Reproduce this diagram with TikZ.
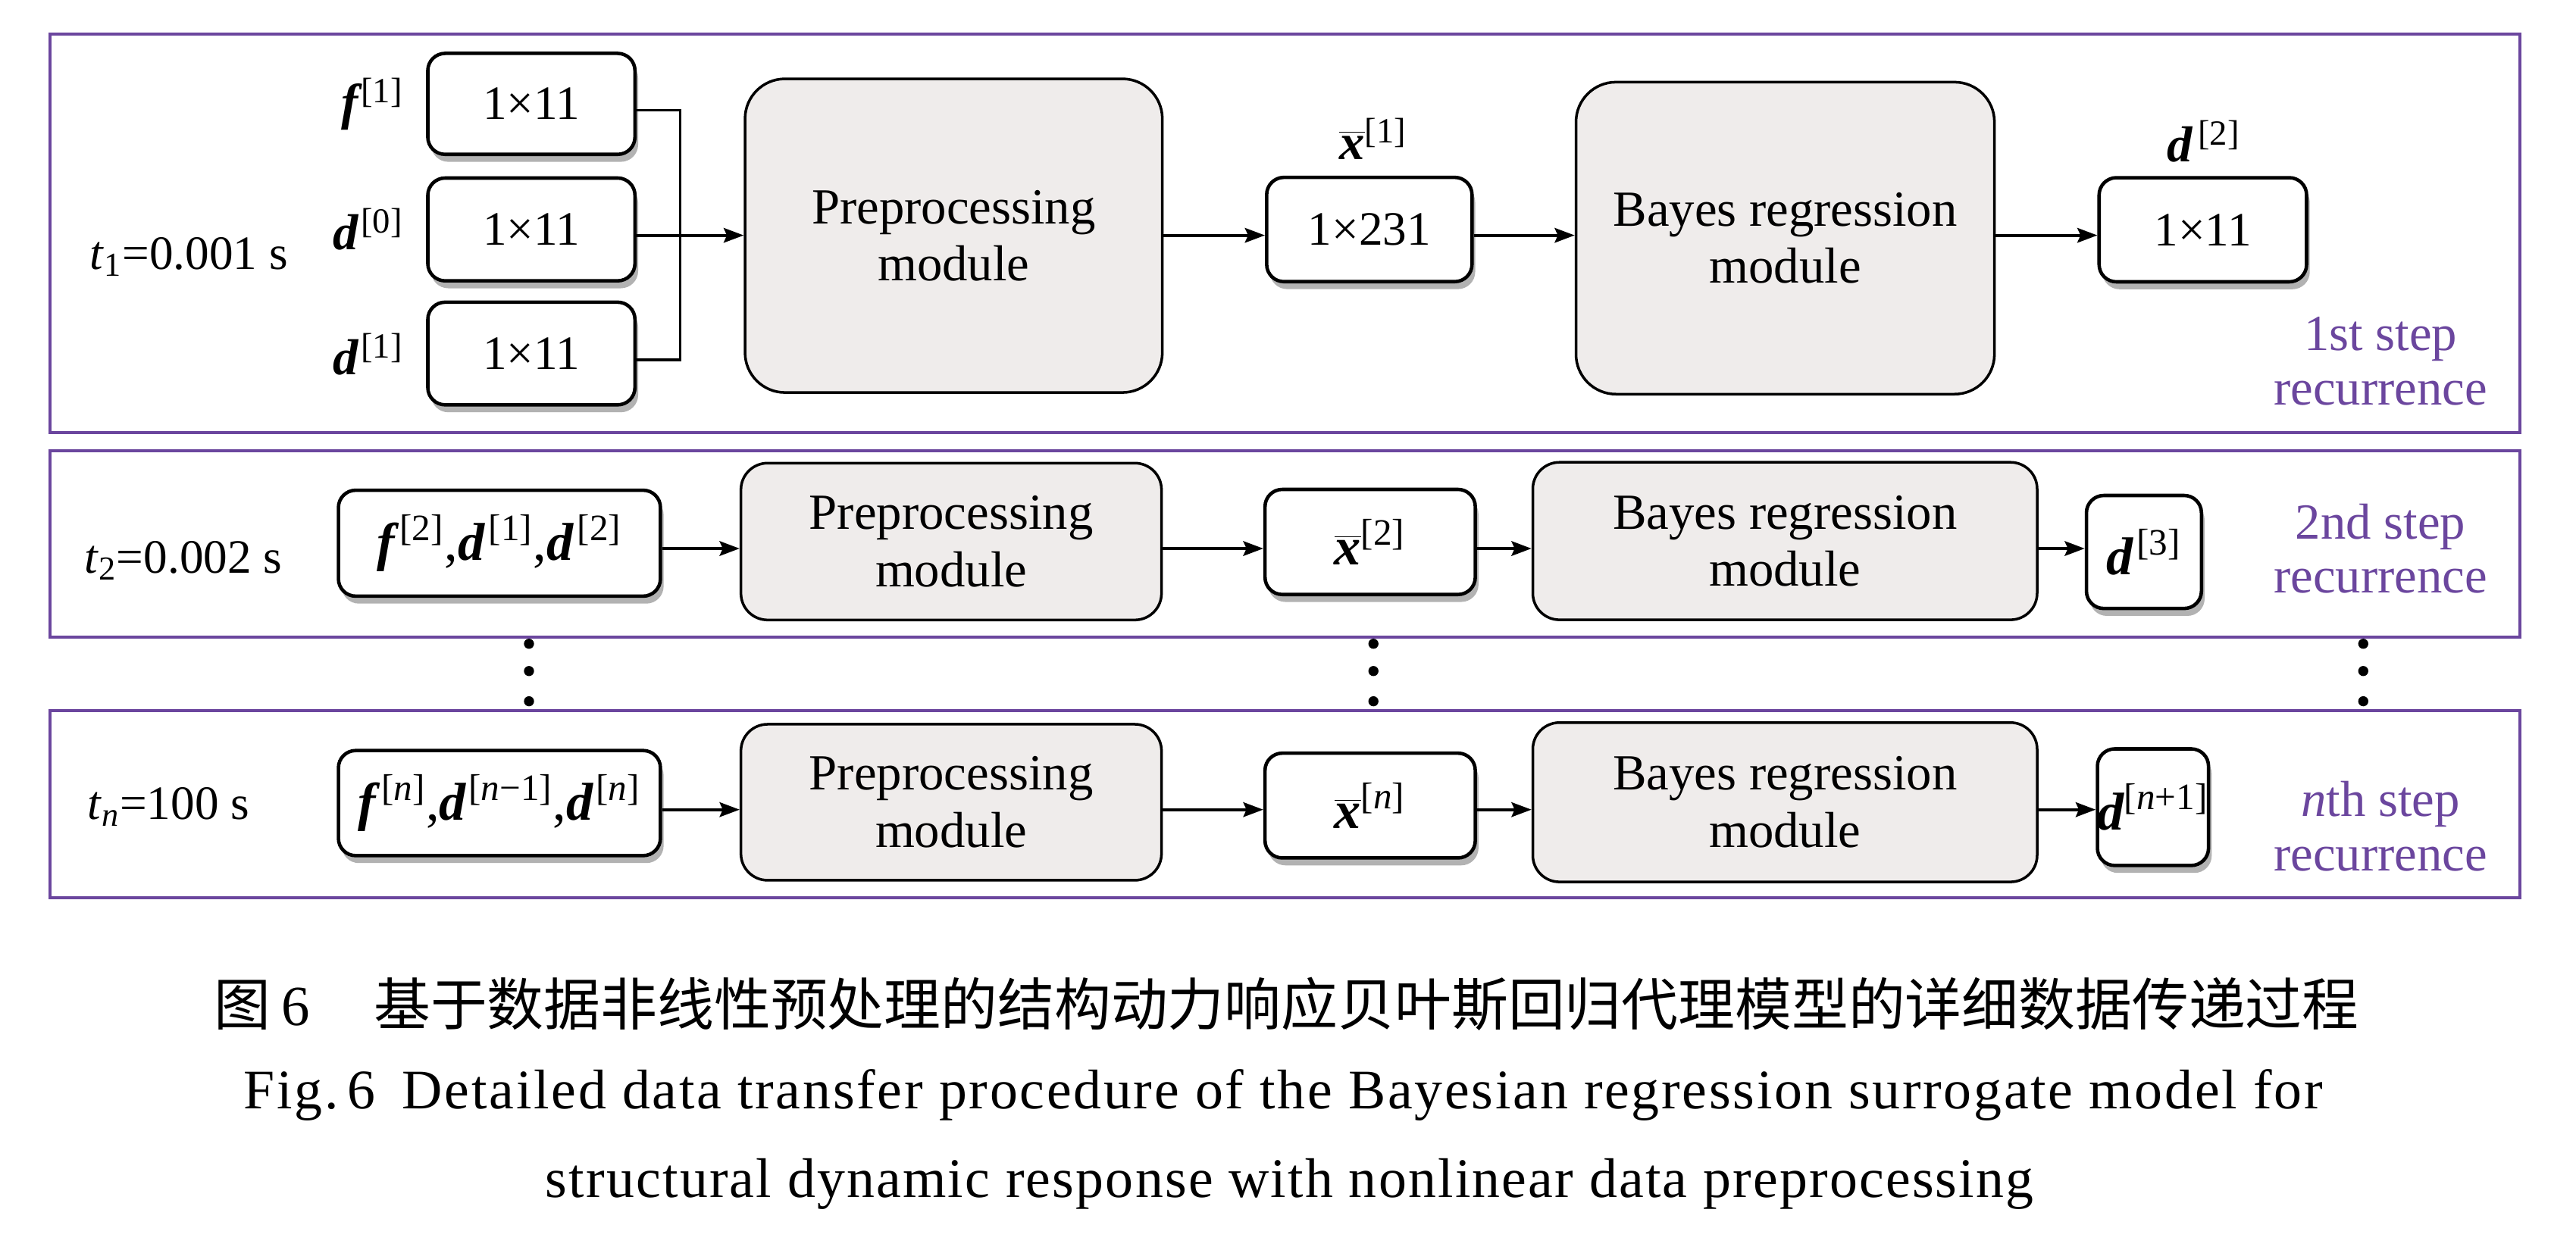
\documentclass[tikz,border=0pt]{standalone}
\usepackage{fontspec}
\setmainfont{Liberation Serif}
\newfontfamily\cjk{Noto Sans CJK SC}
\usetikzlibrary{arrows.meta,shadows}
\definecolor{frm}{RGB}{107,70,158}
\definecolor{modfill}{RGB}{239,236,235}
\newcommand\bvec[1]{{\bfseries\itshape #1}}
\newcommand\xbar{$\overline{\mbox{\bvec{x}}}$}
\tikzset{
  boxat/.style n args={4}{at={({(#1+#3)/2},{(#2+#4)/2})},
    minimum width={(#3-#1)*0.021677cm}, minimum height={(#4-#2)*0.021677cm}},
  frame/.style={draw=frm, line width=1.2pt},
  smallbox/.style={draw, line width=1.3pt, rounded corners=6.5pt, fill=white, inner sep=0pt,
    drop shadow={shadow xshift=1.2pt, shadow yshift=-2.8pt, fill=black, opacity=0.3},
    font=\fontsize{18}{20}\selectfont},
  mathbox/.style={smallbox, font=\fontsize{20}{22}\selectfont},
  modbig/.style={draw, line width=1pt, rounded corners=15pt, fill=modfill, inner sep=0pt,
    align=center, font=\fontsize{19}{21.5}\selectfont},
  modrow/.style={modbig, rounded corners=10pt},
  lbl/.style={inner sep=0pt, font=\fontsize{19}{21}\selectfont},
  tlab/.style={inner sep=0pt, font=\fontsize{18}{20}\selectfont},
  steptxt/.style={inner sep=0pt, text=frm, align=center, font=\fontsize{19}{20.4}\selectfont},
  conn/.style={line width=1.1pt},
  arr/.style={conn, -{Stealth[length=7.5pt,width=5.5pt,inset=1.2pt]}},
}
\begin{document}
\begin{tikzpicture}[x=0.021677cm, y=-0.021677cm]
\useasboundingbox (0,0) rectangle (1568,759);

% frames
\draw[frame] (30.3,20.6) rectangle (1533.7,263.3);
\draw[frame] (30.3,274.4) rectangle (1533.7,387.8);
\draw[frame] (30.3,432.8) rectangle (1533.7,546.5);

% ---------- row 1
\coordinate (r1) at (0,143.3);
\coordinate (bus) at (414,143.3);
\node[tlab, anchor=base west] (t1) at (54.5,164) {\textit{t}\textsubscript{1}=0.001 s};
\node[smallbox, boxat={260.4}{32.5}{386.5}{94}] (f1) {1×11};
\node[smallbox, boxat={260.4}{108.4}{386.5}{171}] (d0) {1×11};
\node[smallbox, boxat={260.4}{184}{386.5}{246.5}] (d1) {1×11};
\node[lbl, anchor=base east] (lf1) at (246,72.5) {\bvec{f}\kern1pt\textsuperscript{[1]}};
\node[lbl, anchor=base east] (ld0) at (246,152) {\bvec{d}\kern1pt\textsuperscript{[0]}};
\node[lbl, anchor=base east] (ld1) at (246,228) {\bvec{d}\kern1pt\textsuperscript{[1]}};
\node[modbig, boxat={453.5}{48}{707.5}{239}] (pre1) {Preprocessing\\module};
\node[smallbox, boxat={771}{108}{896}{171.5}] (x1) {1×231};
\node[lbl, anchor=base] (lx1) at (836,97) {\xbar\textsuperscript{[1]}};
\node[modbig, boxat={959.3}{50}{1214}{240}] (bay1) {Bayes regression\\module};
\node[smallbox, boxat={1277.7}{108.2}{1404}{171.6}] (d2) {1×11};
\node[lbl, anchor=base] (ld2) at (1341.5,98.3) {\bvec{d}\kern2pt\textsuperscript{[2]}};
\node[steptxt] (s1) at (1449,220) {1st step\\recurrence};

\draw[conn] ([yshift=-2.4pt]f1.east) -- ([yshift=-2.4pt]f1.east -| bus) -- ([yshift=-2.4pt]d1.east -| bus) -- ([yshift=-2.4pt]d1.east);
\draw[arr] (d0.east |- r1) -- (pre1.west |- r1);
\draw[arr] (pre1.east |- r1) -- (x1.west |- r1);
\draw[arr] (x1.east |- r1) -- (bay1.west |- r1);
\draw[arr] (bay1.east |- r1) -- (d2.west |- r1);

% ---------- row 2
\coordinate (r2) at (0,334);
\node[tlab, anchor=base west] (t2) at (51,349) {\textit{t}\textsubscript{2}=0.002 s};
\node[mathbox, boxat={206}{298.5}{402}{363}] (in2) {\bvec{f}\kern2pt\textsuperscript{[2]},\bvec{d}\kern1.5pt\textsuperscript{[1]},\bvec{d}\kern1.5pt\textsuperscript{[2]}};
\node[modrow, boxat={451}{282}{707}{377.5}] (pre2) {Preprocessing\\module};
\node[mathbox, boxat={770}{298}{898}{362}] (x2) {\xbar\textsuperscript{[2]}};
\node[modrow, boxat={933}{281.5}{1240}{377.4}] (bay2) {Bayes regression\\module};
\node[mathbox, boxat={1270}{301.7}{1340}{370.5}] (d3) {\bvec{d}\kern1.5pt\textsuperscript{[3]}};
\node[steptxt] (s2) at (1449,334) {2nd step\\recurrence};
\draw[arr] (in2.east |- r2) -- (pre2.west |- r2);
\draw[arr] (pre2.east |- r2) -- (x2.west |- r2);
\draw[arr] (x2.east |- r2) -- (bay2.west |- r2);
\draw[arr] (bay2.east |- r2) -- (d3.west |- r2);

% ---------- dots
\foreach \xx in {322,836,1438.5}{
  \foreach \yy in {392,408.6,427}{
    \fill (\xx,\yy) circle[radius=1.9pt];
  }
}

% ---------- row 3
\coordinate (r3) at (0,493);
\node[tlab, anchor=base west] (t3) at (53,499) {\textit{t}\textsubscript{\textit{n}}=100 s};
\node[mathbox, boxat={206}{457}{402}{521}] (in3) {\bvec{f}\kern2pt\textsuperscript{[\textit{n}]},\bvec{d}\kern1pt\textsuperscript{[\textit{n}−1]},\bvec{d}\kern1pt\textsuperscript{[\textit{n}]}};
\node[modrow, boxat={451}{441}{707}{536}] (pre3) {Preprocessing\\module};
\node[mathbox, boxat={770}{458.6}{898}{522.4}] (x3) {\xbar\textsuperscript{[\textit{n}]}};
\node[modrow, boxat={933}{440}{1240}{537}] (bay3) {Bayes regression\\module};
\node[mathbox, boxat={1277}{456}{1344}{527}] (d4) {\bvec{d}\textsuperscript{[\textit{n}+1]}};
\node[steptxt] (s3) at (1449,503) {\textit{n}th step\\recurrence};
\draw[arr] (in3.east |- r3) -- (pre3.west |- r3);
\draw[arr] (pre3.east |- r3) -- (x3.west |- r3);
\draw[arr] (x3.east |- r3) -- (bay3.west |- r3);
\draw[arr] (bay3.east |- r3) -- (d4.west |- r3);

% ---------- caption
\node[anchor=base west, inner sep=0pt, font=\fontsize{21.3}{25}\selectfont] (capzh) at (130,624.5)
  {{\cjk 图}\hspace{4pt}6\hspace{24pt}{\cjk 基于数据非线性预处理的结构动力响应贝叶斯回归代理模型的详细数据传递过程}};
\node[anchor=base west, inner sep=0pt, font=\fontsize{21}{25}\selectfont\addfontfeatures{LetterSpace=3.7}] (capen1) at (148,675)
  {Fig.\,6\hspace{10pt}Detailed data transfer procedure of the Bayesian regression surrogate model for};
\node[anchor=base, inner sep=0pt, font=\fontsize{21}{25}\selectfont\addfontfeatures{LetterSpace=3}] (capen2) at (785,729)
  {structural dynamic response with nonlinear data preprocessing};
\end{tikzpicture}
\end{document}
